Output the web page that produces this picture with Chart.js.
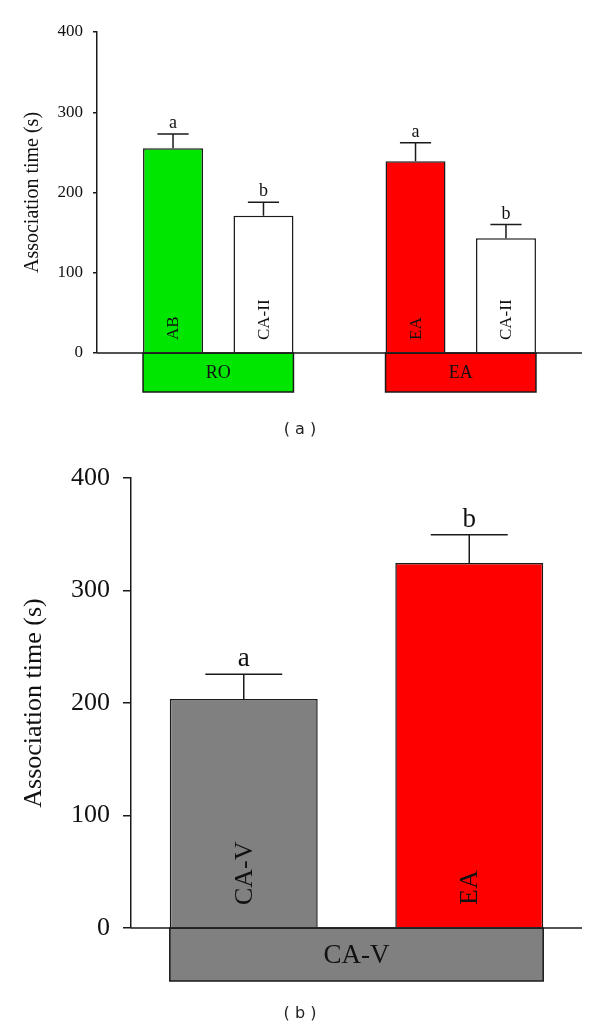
<!DOCTYPE html>
<html>
<head>
<meta charset="utf-8">
<script src="https://cdn.jsdelivr.net/npm/chart.js@4.4.1/dist/chart.umd.min.js"></script>
<style>
  html, body { margin: 0; padding: 0; background: #ffffff; }
  body { width: 600px; height: 1033px; position: relative; overflow: hidden; }
  .panel { position: absolute; left: 0; width: 600px; }
  #wrapA { top: 0; height: 445px; }
  #wrapB { top: 445px; height: 588px; }
  .cap { position: absolute; left: 0; width: 600px; text-align: center;
         font-family: "DejaVu Sans", sans-serif; font-size: 16px; color: #222; }
</style>
</head>
<body>
<div id="wrapA" class="panel"><canvas id="chartA"></canvas></div>
<div id="wrapB" class="panel"><canvas id="chartB"></canvas></div>
<div class="cap" style="top:419px;">( a )</div>
<div class="cap" style="top:1003px;">( b )</div>
<script>
// ---------- data ----------
const yTickValues = [0, 100, 200, 300, 400];
const yTitle = 'Association time (s)';

// Panel (a): two groups, each with two bars
const groupsA = ['RO', 'EA'];
const groupColorsA = ['#00e600', '#ff0000'];
const firstBarLabelsA = ['AB', 'EA'];
const firstBarMeansA = [255, 239];
const firstBarErrorsA = [18, 23];
const firstBarLettersA = ['a', 'a'];
const firstBarColorsA = ['#00e600', '#ff0000'];
const secondBarLabelsA = ['CA-II', 'CA-II'];
const secondBarMeansA = [171, 143];
const secondBarErrorsA = [17, 17];
const secondBarLettersA = ['b', 'b'];
const secondBarColorsA = ['#ffffff', '#ffffff'];

// Panel (b)
const categoriesB = ['CA-V', 'EA'];
const meansB = [203.5, 324.5];
const errorsB = [22, 25];
const lettersB = ['a', 'b'];
const barColorsB = ['#808080', '#ff0000'];
const groupB = 'CA-V';
const groupColorB = '#808080';

// ---------- helpers ----------
const SERIF = '"Liberation Serif", "Times New Roman", serif';
const INK = '#1a1a1a';

const decorPlugin = {
  id: 'decor',
  afterDatasetsDraw(chart, args, o) {
    const ctx = chart.ctx;
    const ys = chart.scales.y;
    const area = chart.chartArea;
    const y0 = ys.getPixelForValue(0);
    ctx.save();
    // group boxes below the baseline
    o.groups.forEach(g => {
      let left = Infinity, right = -Infinity;
      g.members.forEach(([di, i]) => {
        const b = chart.getDatasetMeta(di).data[i];
        left = Math.min(left, b.x - b.width / 2);
        right = Math.max(right, b.x + b.width / 2);
      });
      ctx.fillStyle = g.color;
      ctx.fillRect(left, y0, right - left, o.boxHeight);
      ctx.strokeStyle = INK;
      ctx.lineWidth = o.lineWidth;
      ctx.strokeRect(left, y0, right - left, o.boxHeight);
      ctx.fillStyle = '#111';
      ctx.font = o.groupFontSize + 'px ' + SERIF;
      ctx.textAlign = 'center';
      ctx.textBaseline = 'middle';
      ctx.fillText(g.label, (left + right) / 2, y0 + o.boxHeight / 2 + 1);
    });
    // baseline across the plot
    ctx.strokeStyle = INK;
    ctx.lineWidth = o.lineWidth;
    ctx.beginPath();
    ctx.moveTo(area.left, y0);
    ctx.lineTo(area.right, y0);
    ctx.stroke();
    // error bars, letters, labels inside bars
    chart.data.datasets.forEach((ds, di) => {
      const meta = chart.getDatasetMeta(di);
      meta.data.forEach((b, i) => {
        const yTop = ys.getPixelForValue(ds.data[i] + ds.errors[i]);
        const half = b.width * o.capRatio / 2;
        ctx.strokeStyle = INK;
        ctx.lineWidth = o.lineWidth;
        ctx.beginPath();
        ctx.moveTo(b.x, b.y);
        ctx.lineTo(b.x, yTop);
        ctx.moveTo(b.x - half, yTop);
        ctx.lineTo(b.x + half, yTop);
        ctx.stroke();
        ctx.fillStyle = '#111';
        ctx.font = o.letterFontSize + 'px ' + SERIF;
        ctx.textAlign = 'center';
        ctx.textBaseline = 'alphabetic';
        ctx.fillText(ds.letters[i], b.x, yTop - o.letterGap);
        // rotated label inside bar
        ctx.save();
        ctx.translate(b.x, y0 - o.innerGap);
        ctx.rotate(-Math.PI / 2);
        ctx.font = o.innerFontSize + 'px ' + SERIF;
        ctx.textAlign = 'left';
        ctx.textBaseline = 'middle';
        ctx.fillText(ds.barLabels[i], 0, 1);
        ctx.restore();
      });
    });
    ctx.restore();
  }
};

function yAxis(width, tickFont, titleFont, titlePad, tickLen, tickPad) {
  return {
    min: 0, max: 400,
    afterBuildTicks: s => { s.ticks = yTickValues.map(v => ({ value: v })); },
    afterFit: s => { s.width = width; },
    border: { display: true, color: INK, width: 1.5 },
    grid: { display: true, drawOnChartArea: false, drawTicks: true, tickLength: tickLen, color: INK, lineWidth: 1.5 },
    ticks: { color: '#111', font: { family: SERIF, size: tickFont }, padding: tickPad },
    title: { display: true, text: yTitle, color: '#111', font: { family: SERIF, size: titleFont }, padding: { top: titlePad, bottom: 0 } }
  };
}

const commonOpts = {
  responsive: true,
  maintainAspectRatio: false,
  animation: false,
  events: [],
  plugins: { legend: { display: false }, tooltip: { enabled: false } }
};

// ---------- panel (a) ----------
new Chart(document.getElementById('chartA'), {
  type: 'bar',
  data: {
    labels: groupsA,
    datasets: [
      { data: firstBarMeansA, errors: firstBarErrorsA, letters: firstBarLettersA, barLabels: firstBarLabelsA,
        backgroundColor: firstBarColorsA, borderColor: INK, borderWidth: 1.5 },
      { data: secondBarMeansA, errors: secondBarErrorsA, letters: secondBarLettersA, barLabels: secondBarLabelsA,
        backgroundColor: secondBarColorsA, borderColor: INK, borderWidth: 1.5 }
    ]
  },
  options: Object.assign({}, commonOpts, {
    layout: { padding: { left: 0, right: 18, top: 32, bottom: 92 } },
    datasets: { bar: { categoryPercentage: 0.746, barPercentage: 0.663 } },
    scales: {
      x: { display: false },
      y: yAxis(97, 17, 20, 21, 4, 10)
    },
    plugins: Object.assign({}, commonOpts.plugins, {
      decor: {
        groups: groupsA.map((g, i) => ({ label: g, color: groupColorsA[i], members: [[0, i], [1, i]] })),
        boxHeight: 39, lineWidth: 1.5, capRatio: 0.52, letterGap: 6, letterFontSize: 18,
        innerGap: 13, innerFontSize: 17, groupFontSize: 18
      }
    })
  }),
  plugins: [decorPlugin]
});

// ---------- panel (b) ----------
new Chart(document.getElementById('chartB'), {
  type: 'bar',
  data: {
    labels: categoriesB,
    datasets: [
      { data: meansB, errors: errorsB, letters: lettersB, barLabels: categoriesB,
        backgroundColor: barColorsB, borderColor: INK, borderWidth: 1.5 }
    ]
  },
  options: Object.assign({}, commonOpts, {
    layout: { padding: { left: 0, right: 18, top: 33, bottom: 105 } },
    datasets: { bar: { categoryPercentage: 1.0, barPercentage: 0.656 } },
    scales: {
      x: { display: false },
      y: yAxis(131, 26, 26, 19, 8, 13)
    },
    plugins: Object.assign({}, commonOpts.plugins, {
      decor: {
        groups: [{ label: groupB, color: groupColorB, members: categoriesB.map((c, i) => [0, i]) }],
        boxHeight: 53, lineWidth: 1.5, capRatio: 0.52, letterGap: 8, letterFontSize: 27,
        innerGap: 23, innerFontSize: 26, groupFontSize: 27
      }
    })
  }),
  plugins: [decorPlugin]
});
</script>
</body>
</html>
